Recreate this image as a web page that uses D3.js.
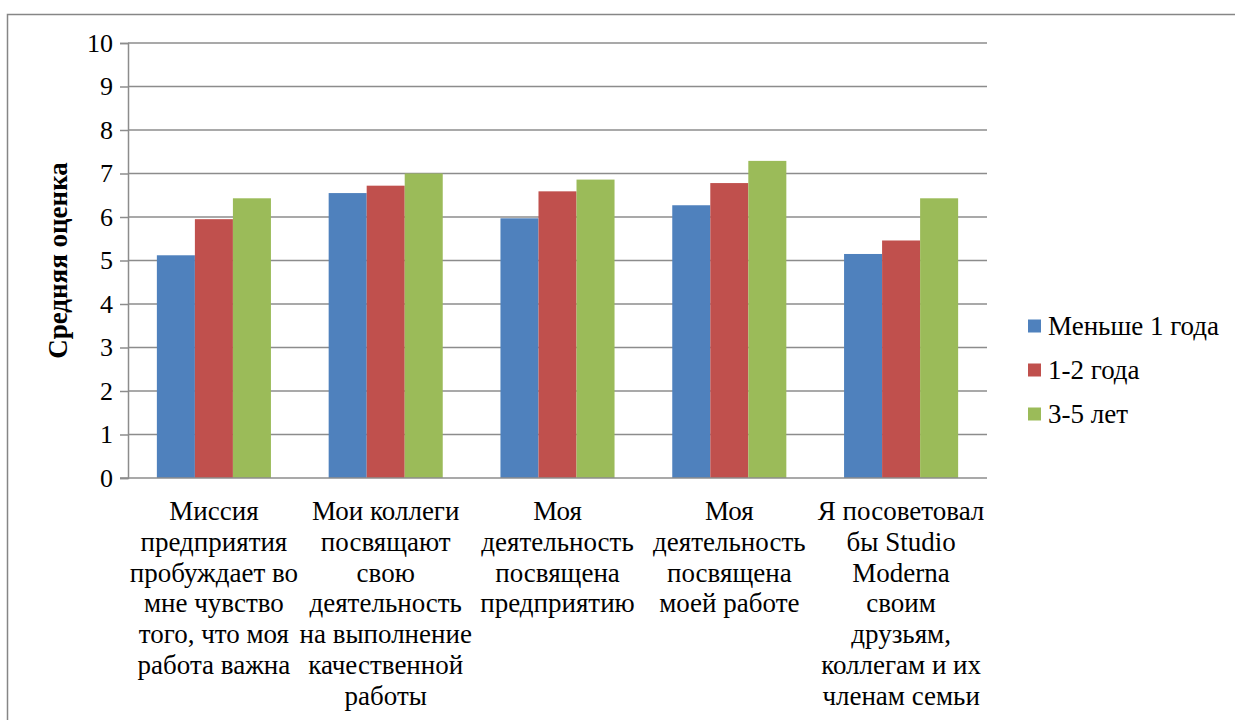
<!DOCTYPE html>
<html>
<head>
<meta charset="utf-8">
<script src="https://cdn.jsdelivr.net/npm/d3@7"></script>
<style>
  html, body { margin: 0; padding: 0; background: #fff; }
  svg { display: block; }
</style>
</head>
<body>
<svg id="chart" width="1235" height="720"></svg>
<script>
// Categories (multi-line labels) and mean scores per tenure group
const categories = [
  ["Миссия", "предприятия", "пробуждает во", "мне чувство", "того, что моя", "работа важна"],
  ["Мои коллеги", "посвящают", "свою", "деятельность", "на выполнение", "качественной", "работы"],
  ["Моя", "деятельность", "посвящена", "предприятию"],
  ["Моя", "деятельность", "посвящена", "моей работе"],
  ["Я посоветовал", "бы Studio", "Moderna", "своим", "друзьям,", "коллегам и их", "членам семьи"]
];
const seriesNames = ["Меньше 1 года", "1-2 года", "3-5 лет"];
const lessThan1 = [5.12, 6.55, 5.97, 6.27, 5.15];
const oneToTwo = [5.95, 6.72, 6.59, 6.78, 5.46];
const threeToFive = [6.43, 7.00, 6.86, 7.29, 6.43];
const yTicks = [0, 1, 2, 3, 4, 5, 6, 7, 8, 9, 10];
const colors = ["#4F81BD", "#C0504D", "#9BBB59"];

const FONT = '"Liberation Serif"';
const FS = 27;
const seriesValues = [lessThan1, oneToTwo, threeToFive];
const svg = d3.select("#chart");

// Chart frame
svg.append("rect")
  .attr("x", 7.5).attr("y", 14.5)
  .attr("width", 1240).attr("height", 720)
  .attr("fill", "none").attr("stroke", "#868686").attr("stroke-width", 1.5);

const plot = { left: 128, right: 987, top: 43, bottom: 478 };

const x0 = d3.scaleBand()
  .domain(d3.range(categories.length))
  .range([plot.left, plot.right])
  .paddingInner(0.336)
  .paddingOuter(0.168);
const x1 = d3.scaleBand()
  .domain(d3.range(seriesNames.length))
  .range([0, x0.bandwidth()]);
const y = d3.scaleLinear().domain([0, 10]).range([plot.bottom, plot.top]);

// Horizontal gridlines
svg.append("g")
  .selectAll("line")
  .data(yTicks.filter(d => d > 0))
  .join("line")
  .attr("x1", plot.left).attr("x2", plot.right)
  .attr("y1", d => y(d)).attr("y2", d => y(d))
  .attr("stroke", "#8c8c8c").attr("stroke-width", 1.5);

// Bars
const groups = svg.append("g")
  .selectAll("g")
  .data(categories.map((c, i) => i))
  .join("g")
  .attr("transform", i => `translate(${x0(i)},0)`);

groups.selectAll("rect")
  .data(i => seriesValues.map((vals, s) => ({ s, v: vals[i] })))
  .join("rect")
  .attr("x", d => x1(d.s))
  .attr("width", x1.bandwidth())
  .attr("y", d => y(d.v))
  .attr("height", d => y(0) - y(d.v))
  .attr("fill", d => colors[d.s]);

// Y axis
const yAxis = svg.append("g")
  .attr("transform", `translate(${plot.left},0)`)
  .call(d3.axisLeft(y).tickValues(yTicks).tickSize(8).tickPadding(7).tickFormat(d3.format("d")));
yAxis.attr("font-family", null).attr("font-size", null);
yAxis.select(".domain").attr("stroke", "#8c8c8c").attr("stroke-width", 1.5);
yAxis.selectAll(".tick line").attr("stroke", "#8c8c8c").attr("stroke-width", 1.5);
yAxis.selectAll(".tick text")
  .style("font-family", FONT)
  .style("font-size", "26px").attr("fill", "#000");

// X axis baseline
svg.append("line")
  .attr("x1", plot.left - 8).attr("x2", plot.right)
  .attr("y1", y(0)).attr("y2", y(0))
  .attr("stroke", "#8c8c8c").attr("stroke-width", 1.5);

// Category labels
const lineH = 30.8;
svg.append("g")
  .selectAll("text")
  .data(categories)
  .join("text")
  .attr("text-anchor", "middle")
  .style("font-family", FONT)
  .style("font-size", FS + "px")
  .attr("fill", "#000")
  .attr("transform", (d, i) => `translate(${x0(i) + x0.bandwidth() / 2},${520})`)
  .selectAll("tspan")
  .data(d => d)
  .join("tspan")
  .attr("x", 0)
  .attr("y", (d, k) => k * lineH)
  .text(d => d);

// Y axis title
svg.append("text")
  .attr("transform", `translate(67,${(plot.top + plot.bottom) / 2}) rotate(-90)`)
  .attr("text-anchor", "middle")
  .style("font-family", FONT)
  .style("font-size", FS + "px")
  .style("font-weight", "bold")
  .attr("fill", "#000")
  .text("Средняя оценка");

// Legend
const legend = svg.append("g").attr("transform", "translate(1028,326)");
const items = legend.selectAll("g")
  .data(seriesNames)
  .join("g")
  .attr("transform", (d, i) => `translate(0,${i * 44})`);
items.append("rect")
  .attr("x", 0).attr("y", -6.5).attr("width", 13).attr("height", 13)
  .attr("fill", (d, i) => colors[i]);
items.append("text")
  .attr("x", 20).attr("y", 0).attr("dy", "0.33em")
  .style("font-family", FONT)
  .style("font-size", FS + "px").attr("fill", "#000")
  .text(d => d);
</script>
</body>
</html>
